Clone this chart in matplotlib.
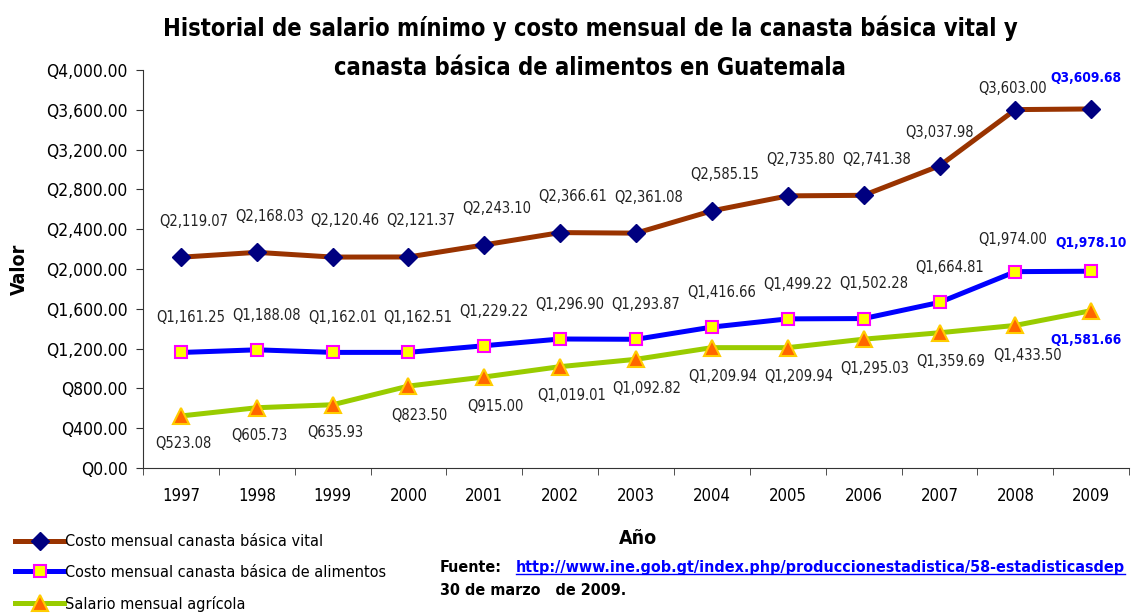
import matplotlib
matplotlib.use("Agg")
import matplotlib.pyplot as plt
import numpy as np

plt.rcParams['font.family'] = ['DejaVu Sans']
plt.rcParams['font.stretch'] = 'condensed'

years = ['1997', '1998', '1999', '2000', '2001', '2002', '2003',
         '2004', '2005', '2006', '2007', '2008', '2009']
vital = [2119.07, 2168.03, 2120.46, 2121.37, 2243.10, 2366.61, 2361.08,
         2585.15, 2735.80, 2741.38, 3037.98, 3603.00, 3609.68]
alimentos = [1161.25, 1188.08, 1162.01, 1162.51, 1229.22, 1296.90, 1293.87,
             1416.66, 1499.22, 1502.28, 1664.81, 1974.00, 1978.10]
agricola = [523.08, 605.73, 635.93, 823.50, 915.00, 1019.01, 1092.82,
            1209.94, 1209.94, 1295.03, 1359.69, 1433.50, 1581.66]
names = ['Costo mensual canasta básica vital',
         'Costo mensual canasta básica de alimentos',
         'Salario mensual agrícola']

fig = plt.figure(figsize=(11.31, 6.14), dpi=100)
ax = fig.add_axes([0.1264, 0.2378, 0.872, 0.648])
x = np.arange(len(years))

l1, = ax.plot(x, vital, color='#993300', lw=3.6, marker='D', ms=9,
              mfc='#000080', mec='#000080', label=names[0])
l2, = ax.plot(x, alimentos, color='#0000FF', lw=3.6, marker='s', ms=9,
              mfc='#FFFF00', mec='#FF00FF', mew=1.5, label=names[1])
l3, = ax.plot(x, agricola, color='#99CC00', lw=3.6, marker='^', ms=11,
              mfc='#FF6600', mec='#FFCC00', mew=1.5, label=names[2])

# data labels; default offset per series, a few moved by hand as in the original
default_off = [(9, 26), (7, 25), (8, -21)]
special_off = {(0, 10): (0, 24), (0, 11): (-2, 15), (0, 12): (-3.5, 22),
               (1, 11): (-2, 23), (1, 12): (0, 20),
               (2, 0): (2, -20), (2, 1): (2, -20), (2, 2): (2, -20),
               (2, 11): (9, -22), (2, 12): (-3.5, -21)}
for s, series in enumerate((vital, alimentos, agricola)):
    for i, v in enumerate(series):
        last = i == len(series) - 1
        off = special_off.get((s, i), default_off[s])
        ax.annotate(f'Q{v:,.2f}', (x[i], v), xytext=off,
                    textcoords='offset points', ha='center', va='center',
                    fontsize=9.8 if last else 10.5,
                    color='#0000FF' if last else '#222222',
                    fontweight='bold' if last else 'normal')

ax.set_xlim(-0.5, len(years) - 0.5)
ax.set_ylim(0, 4000)
ax.set_yticks(np.arange(0, 4001, 400))
ax.set_yticklabels([f'Q{v:,.2f}' for v in np.arange(0, 4001, 400)], fontsize=12.5)
ax.set_xticks(x)
ax.set_xticklabels(years, fontsize=12)
ax.set_xticks(np.arange(-0.5, len(years)), minor=True)
ax.tick_params(axis='x', which='major', length=0, pad=14)
ax.tick_params(axis='x', which='minor', length=5, color='#333333')
ax.tick_params(axis='y', length=5, color='#333333', pad=6)
ax.spines['top'].set_visible(False)
ax.spines['right'].set_visible(False)
ax.spines['left'].set_color('#333333')
ax.spines['bottom'].set_color('#333333')

ax.set_ylabel('Valor', fontsize=14, fontweight='bold', labelpad=12)
fig.text(0.564, 0.123, 'Año', fontsize=14, fontweight='bold', ha='center', va='center')

fig.text(0.522, 0.954, 'Historial de salario mínimo y costo mensual de la canasta básica vital y',
         fontsize=17, fontweight='bold', ha='center', va='center')
fig.text(0.522, 0.889, 'canasta básica de alimentos en Guatemala',
         fontsize=17, fontweight='bold', ha='center', va='center')

fig.legend(handles=[l1, l2, l3], loc='upper left', bbox_to_anchor=(0.008, 0.14),
           frameon=False, fontsize=11.6, handlelength=3.0, handletextpad=0.1,
           labelspacing=0.97, borderaxespad=0)

fig.text(0.389, 0.076, 'Fuente:', fontsize=11.5, fontweight='bold', va='center')
link = fig.text(0.456, 0.076,
                'http://www.ine.gob.gt/index.php/produccionestadistica/58-estadisticasdep',
                fontsize=11.5, fontweight='bold', color='#0000FF', va='center')
fig.text(0.389, 0.038, '30 de marzo   de 2009.', fontsize=11.5, fontweight='bold', va='center')

fig.canvas.draw()
bb = link.get_window_extent().transformed(fig.transFigure.inverted())
fig.add_artist(plt.Line2D([bb.x0, bb.x1], [bb.y0 + 0.002, bb.y0 + 0.002],
                          color='#0000FF', lw=1))

fig.savefig('out.png', dpi=100)
